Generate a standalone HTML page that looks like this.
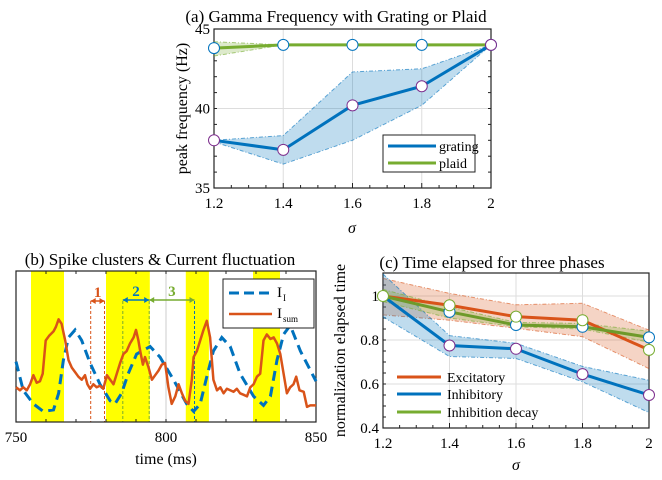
<!DOCTYPE html>
<html><head><meta charset="utf-8"><style>
body{margin:0;background:#fff}
svg{font-family:"Liberation Serif",serif;display:block}
</style></head><body>
<svg id="s" width="662" height="480"></svg>
<script>
// ---- Panel (a) data ----
const aSigma=[1.2,1.4,1.6,1.8,2];
const aGrating=[38,37.4,40.2,41.4,44];
const aGratingHi=[38,38.3,42.3,42.5,44];
const aGratingLo=[37.9,36.5,38,40.2,44];
const aPlaid=[43.8,44,44,44,44];
const aPlaidHi=[44.2,44,44,44,44];
const aPlaidLo=[43.3,44,44,44,44];
const aYTicks=[35,40,45];
const aXTicks=["1.2","1.4","1.6","1.8","2"];
// ---- Panel (b) data ----
const bSumT=[750,751.3,752.4,753.6,754.7,755.8,756.9,758,758.9,759.9,761,762.5,763.3,764.2,765.2,766.4,767.5,768.6,769.7,770.8,771.9,773,773.8,774.7,775.8,776.9,778,779.1,780.3,781.4,782.5,783.6,784.7,785.8,786.9,788,789.2,790,790.8,791.4,792.3,793,794.2,795.3,796.4,797.5,798.6,799.7,800.8,801.9,803.1,804.2,805.3,806.4,807.5,808.6,809.2,810.3,811.4,812.5,813.6,814.7,815.8,817,818.1,819.2,820.3,821.4,822.5,823.6,824.7,825.9,827,828.1,829.2,830.3,831.4,832.5,833.6,834.8,835.9,837,838.1,839.2,840.3,841.4,842.5,843.4,844.5,845.9,847,848.1,850];
const bSumV=[23,21,23,21,25,31,26,27,32,54,57,60,63,68,65,54,41,36,33,30,28,31,25,22,25,23,24,22,31,28,25,32,39,45,47,52,56,61,54,47,38,43,36,28,31,34,38,39,23,12,17,25,19,14,12,28,43,47,54,61,67,56,28,21,23,19,22,21,20,22,19,18,17,23,25,30,32,54,58,55,56,52,45,32,19,23,25,30,21,20,10,11,11];
const bIT=[750,752.4,755.8,759.1,762.5,764.2,765.8,767.5,769.7,771.9,774.7,778,781.4,783,785.2,787.4,790.2,794.7,798,802.5,806.9,809.2,811.4,813.6,815.8,818.6,821.4,824.7,829.2,832.5,834.8,837,839.2,841.4,844.8,850];
const bIV=[40,21,12,7,8,19,41,56,61,54,39,25,14,12,19,32,45,50,43,28,12,7,12,30,47,56,50,32,17,11,17,41,58,64,47,27];
const bBands=[[755,766],[780,794.6],[806.6,814.3],[829,838]];
const bXTicks=[750,800,850];
// ---- Panel (c) data ----
const cSigma=[1.2,1.4,1.6,1.8,2];
const cExc=[1.0,0.958,0.906,0.89,0.755];
const cExcHi=[1.08,1.012,0.96,0.967,0.845];
const cExcLo=[0.914,0.89,0.853,0.815,0.67];
const cInh=[1.0,0.775,0.76,0.645,0.55];
const cInhHi=[1.1,0.82,0.785,0.68,0.617];
const cInhLo=[0.905,0.725,0.716,0.61,0.47];
const cDec=[1.0,0.928,0.868,0.86,0.812];
const cDecHi=[1.03,0.95,0.88,0.875,0.84];
const cDecLo=[0.975,0.9,0.86,0.85,0.79];
const cYTicks=[0.4,0.6,0.8,1];
const cYLabels=["0.4","0.6","0.8","1"];

const NS="http://www.w3.org/2000/svg";
const S=document.getElementById('s');
function el(tag,attrs,parent,text){const e=document.createElementNS(NS,tag);for(const k in attrs)e.setAttribute(k,attrs[k]);if(text!==undefined)e.textContent=text;(parent||S).appendChild(e);return e;}
function lin(d0,d1,r0,r1){return v=>r0+(v-d0)/(d1-d0)*(r1-r0);}
function pts(xs,ys,X,Y){return xs.map((x,i)=>X(x)+','+Y(ys[i])).join(' ');}
function band(xs,hi,lo,X,Y,col,name){
  const g=el('g',{});
  
  
  const p=xs.map((x,i)=>X(x)+','+Y(hi[i])).concat(xs.slice().reverse().map((x,j)=>X(x)+','+Y(lo[xs.length-1-j])));
  el('polygon',{points:p.join(' '),fill:col,'fill-opacity':0.25,stroke:'none'},g);
  el('polyline',{points:pts(xs,hi,X,Y),fill:'none',stroke:col,'stroke-opacity':0.6,'stroke-width':1,'stroke-dasharray':'4,2,1,2'},g);
  el('polyline',{points:pts(xs,lo,X,Y),fill:'none',stroke:col,'stroke-opacity':0.6,'stroke-width':1,'stroke-dasharray':'4,2,1,2'},g);
}
function markers(xs,ys,X,Y,col,name){
  xs.forEach((x,i)=>{const c=el('circle',{cx:X(x),cy:Y(ys[i]),r:5.5,fill:'#fff',stroke:col,'stroke-width':1});
  
  });
}
const BLUE='#0072BD',ORG='#D95319',GRN='#77AC30',PUR='#7E2F8E';

// ===== Panel A =====
{const L=214,R=491,T=29,B=188;
const X=lin(1.2,2,L,R),Y=lin(35,45,B,T);
const g=el('g',{});
aSigma.forEach(s=>el('line',{x1:X(s),x2:X(s),y1:T,y2:B,stroke:'#ddd'},g));
aYTicks.forEach(v=>el('line',{x1:L,x2:R,y1:Y(v),y2:Y(v),stroke:'#ddd'},g));
band(aSigma,aPlaidHi,aPlaidLo,X,Y,GRN,'plaid-band');
band(aSigma,aGratingHi,aGratingLo,X,Y,BLUE,'grating-band');
let l=el('polyline',{points:pts(aSigma,aPlaid,X,Y),fill:'none',stroke:GRN,'stroke-width':3});

l=el('polyline',{points:pts(aSigma,aGrating,X,Y),fill:'none',stroke:BLUE,'stroke-width':3});

markers(aSigma,aPlaid,X,Y,BLUE,'plaid-marker');
markers(aSigma,aGrating,X,Y,PUR,'grating-marker');
el('rect',{x:L,y:T,width:R-L,height:B-T,fill:'none',stroke:'#222','stroke-width':1.2},g);
for(let v=35;v<=45;v++){el('line',{x1:L,x2:L+3,y1:Y(v),y2:Y(v),stroke:'#222'},g);el('line',{x1:R,x2:R-3,y1:Y(v),y2:Y(v),stroke:'#222'},g);}
for(let s=1.2;s<=2.001;s+=0.05){el('line',{x1:X(s),x2:X(s),y1:B,y2:B-(Math.round(s*20)%4==0?5:3),stroke:'#222'},g);}
aYTicks.forEach(v=>el('text',{x:L-4,y:Y(v)+5,'text-anchor':'end','font-size':15},g,v));
aSigma.forEach((s,i)=>el('text',{x:X(s),y:B+20,'text-anchor':'middle','font-size':15},g,aXTicks[i]));
el('text',{x:352,y:233,'text-anchor':'middle','font-size':16,'font-style':'italic'},g,'σ');
el('text',{x:0,y:0,'text-anchor':'middle','font-size':16,transform:`translate(187,${(T+B)/2}) rotate(-90)`},g,'peak frequency (Hz)');
el('text',{x:336,y:22,'text-anchor':'middle','font-size':17},g,'(a) Gamma Frequency with Grating or Plaid');
const lg=el('g',{});
el('rect',{x:383,y:135,width:92,height:37,fill:'#fff',stroke:'#222'},lg);
el('line',{x1:388,x2:436,y1:146,y2:146,stroke:BLUE,'stroke-width':3},lg);
el('text',{x:439,y:151,'font-size':14},lg,'grating');
el('line',{x1:388,x2:436,y1:163,y2:163,stroke:GRN,'stroke-width':3},lg);
el('text',{x:439,y:168,'font-size':14},lg,'plaid');
}

// ===== Panel B =====
{const L=16,R=316,T=271,B=422;
const X=lin(750,850,L,R),Y=lin(0,100,B,T);
const g=el('g',{});
bBands.forEach(b=>{const r=el('rect',{x:X(b[0]),y:T,width:X(b[1])-X(b[0]),height:B-T,fill:'#ffff00'},g);
});
el('line',{x1:X(800),x2:X(800),y1:T,y2:B,stroke:'#ccc'},g);
let l=el('polyline',{points:pts(bIT,bIV,X,Y),fill:'none',stroke:BLUE,'stroke-width':3,'stroke-dasharray':'10,6'});

l=el('polyline',{points:pts(bSumT,bSumV,X,Y),fill:'none',stroke:ORG,'stroke-width':2.5,'stroke-linejoin':'round'});

const vl=(t,c)=>el('line',{x1:X(t),x2:X(t),y1:301,y2:B,stroke:c,'stroke-width':1,'stroke-dasharray':'3,2'},g);
vl(774.9,ORG);vl(779.5,ORG);vl(785.6,GRN);vl(794.4,GRN);vl(809.5,BLUE);
const arr=(a,b,y,c,t)=>{el('line',{x1:X(a),x2:X(b),y1:y,y2:y,stroke:c,'stroke-width':1.5},g);
el('polygon',{points:`${X(a)},${y} ${X(a)+5},${y-3} ${X(a)+5},${y+3}`,fill:c},g);
el('polygon',{points:`${X(b)},${y} ${X(b)-5},${y-3} ${X(b)-5},${y+3}`,fill:c},g);
el('text',{x:(X(a)+X(b))/2,y:y-4,'text-anchor':'middle','font-size':15,'font-weight':'bold',fill:c},g,t);};
arr(774.9,779.5,301,ORG,'1');arr(785.6,794.4,300,'#0077BB','2');arr(794.4,809.5,300,GRN,'3');
el('rect',{x:L,y:T,width:R-L,height:B-T,fill:'none',stroke:'#222','stroke-width':1.2},g);
for(let t=750;t<=850;t+=10){el('line',{x1:X(t),x2:X(t),y1:B,y2:B-3,stroke:'#222'},g);el('line',{x1:X(t),x2:X(t),y1:T,y2:T+3,stroke:'#222'},g);}
bXTicks.forEach(t=>el('text',{x:X(t),y:B+20,'text-anchor':'middle','font-size':15},g,t));
el('text',{x:166,y:464,'text-anchor':'middle','font-size':16},g,'time (ms)');
el('text',{x:160,y:265,'text-anchor':'middle','font-size':17},g,'(b) Spike clusters & Current fluctuation');
const lg=el('g',{});
el('rect',{x:223,y:279,width:91,height:49,fill:'#fff',stroke:'#222'},lg);
el('line',{x1:229,x2:272,y1:293,y2:293,stroke:BLUE,'stroke-width':3,'stroke-dasharray':'10,5'},lg);
el('text',{x:277,y:297,'font-size':15},lg,'I');el('text',{x:283,y:301,'font-size':9},lg,'I');
el('line',{x1:229,x2:272,y1:314,y2:314,stroke:ORG,'stroke-width':2.5},lg);
el('text',{x:277,y:318,'font-size':15},lg,'I');el('text',{x:283,y:322,'font-size':9},lg,'sum');
}

// ===== Panel C =====
{const L=383,R=649,T=273,B=428;
const X=lin(1.2,2,L,R),Y=lin(0.4,1.0,B,296);
const g=el('g',{});
cSigma.forEach(s=>el('line',{x1:X(s),x2:X(s),y1:T,y2:B,stroke:'#ddd'},g));
cYTicks.forEach(v=>el('line',{x1:L,x2:R,y1:Y(v),y2:Y(v),stroke:'#ddd'},g));
band(cSigma,cExcHi,cExcLo,X,Y,ORG,'excitatory-band');
band(cSigma,cInhHi,cInhLo,X,Y,BLUE,'inhibitory-band');
band(cSigma,cDecHi,cDecLo,X,Y,GRN,'inhibition-decay-band');
let l=el('polyline',{points:pts(cSigma,cExc,X,Y),fill:'none',stroke:ORG,'stroke-width':3});

l=el('polyline',{points:pts(cSigma,cInh,X,Y),fill:'none',stroke:BLUE,'stroke-width':3});

l=el('polyline',{points:pts(cSigma,cDec,X,Y),fill:'none',stroke:'#6E9A2A','stroke-width':3});

markers(cSigma.slice(1),cDec.slice(1),X,Y,BLUE,'decay-marker');
markers(cSigma.slice(1),cInh.slice(1),X,Y,PUR,'inhibitory-marker');
markers(cSigma,cExc,X,Y,GRN,'excitatory-marker');
el('rect',{x:L,y:T,width:R-L,height:B-T,fill:'none',stroke:'#222','stroke-width':1.2},g);
for(let v=0.4;v<=1.1;v+=0.05){el('line',{x1:L,x2:L+3,y1:Y(v),y2:Y(v),stroke:'#222'},g);}
for(let s=1.2;s<=2.001;s+=0.05){el('line',{x1:X(s),x2:X(s),y1:B,y2:B-(Math.round(s*20)%4==0?5:3),stroke:'#222'},g);}
cYTicks.forEach((v,i)=>el('text',{x:L-4,y:Y(v)+5,'text-anchor':'end','font-size':15},g,cYLabels[i]));
cSigma.forEach((s,i)=>el('text',{x:X(s),y:B+20,'text-anchor':'middle','font-size':15},g,aXTicks[i]));
el('text',{x:516,y:470,'text-anchor':'middle','font-size':16,'font-style':'italic'},g,'σ');
el('text',{x:0,y:0,'text-anchor':'middle','font-size':16,transform:`translate(345,${(T+B)/2}) rotate(-90)`},g,'normalization elapsed time');
el('text',{x:492,y:268,'text-anchor':'middle','font-size':17},g,'(c) Time elapsed for three phases');
const lg=el('g',{});
[[ORG,'Excitatory',377],[BLUE,'Inhibitory',394],[GRN,'Inhibition decay',412]].forEach(e=>{
el('line',{x1:397,x2:441,y1:e[2],y2:e[2],stroke:e[0],'stroke-width':3},lg);
el('text',{x:447,y:e[2]+5,'font-size':14},lg,e[1]);});
}
</script>
</body></html>
